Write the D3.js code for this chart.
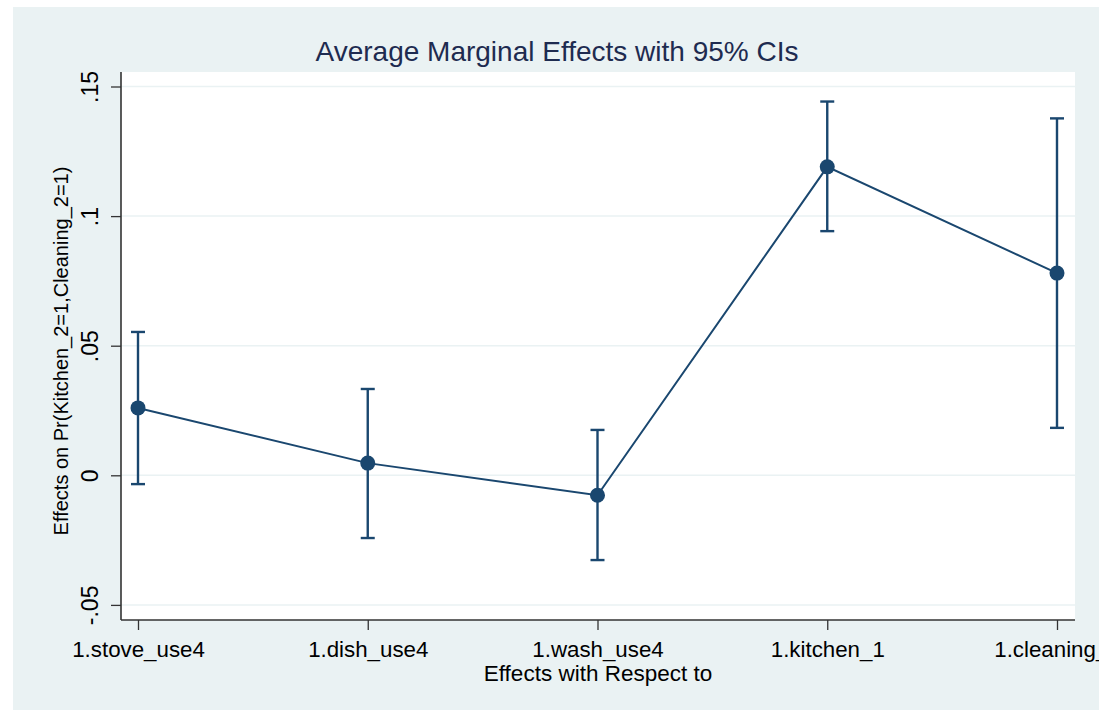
<!DOCTYPE html>
<html>
<head>
<meta charset="utf-8">
<script src="https://cdn.jsdelivr.net/npm/d3@7"></script>
<style>
  html, body { margin: 0; padding: 0; background: #ffffff; }
  svg { display: block; font-family: "Liberation Sans", Arial, sans-serif; }
</style>
</head>
<body>
<svg id="chart" width="1099" height="710"></svg>
<script>
const categories = ["1.stove_use4", "1.dish_use4", "1.wash_use4", "1.kitchen_1", "1.cleaning_1"];
const estimates  = [0.026, 0.0047, -0.0077, 0.119, 0.078];
const ciLower    = [-0.0034, -0.0242, -0.0327, 0.0942, 0.0183];
const ciUpper    = [0.0553, 0.0333, 0.0175, 0.1442, 0.1377];
const yTicks     = [-0.05, 0, 0.05, 0.1, 0.15];
const yTickLabels = ["-.05", "0", ".05", ".1", ".15"];
const titleText  = "Average Marginal Effects with 95% CIs";
const xTitle     = "Effects with Respect to";
const yTitle     = "Effects on Pr(Kitchen_2=1,Cleaning_2=1)";

const svg = d3.select("#chart");
const W = 1099, H = 710;
const bg = "#eaf2f3", navy = "#1a476f";

// outer graph region
svg.append("rect").attr("x", 13).attr("y", 7).attr("width", W - 13).attr("height", H - 7).attr("fill", bg);

const plot = { left: 121, right: 1075, top: 72, bottom: 620 };
svg.append("rect").attr("x", plot.left).attr("y", plot.top)
  .attr("width", plot.right - plot.left).attr("height", plot.bottom - plot.top).attr("fill", "#ffffff");

const x = d3.scalePoint().domain(categories).range([138, 1057]);
const y = d3.scaleLinear().domain([0, 0.05]).range([475.3, 345.7]);

// gridlines
svg.append("g").selectAll("line").data(yTicks).join("line")
  .attr("x1", plot.left).attr("x2", plot.right)
  .attr("y1", d => y(d)).attr("y2", d => y(d))
  .attr("stroke", bg).attr("stroke-width", 1.5);

// y axis
const yAxis = d3.axisLeft(y).tickValues(yTicks)
  .tickFormat((d, i) => yTickLabels[i]).tickSizeOuter(0).tickSize(10).tickPadding(8);
const gy = svg.append("g").attr("transform", `translate(${plot.left},0)`).call(yAxis);
gy.select(".domain").attr("d", `M0,${plot.top}V${plot.bottom}`).attr("stroke", "#333").attr("stroke-width", 1.6);
gy.selectAll(".tick line").attr("stroke", "#333").attr("stroke-width", 1.3);
gy.selectAll(".tick text")
  .attr("font-size", 23).attr("fill", "#000")
  .attr("text-anchor", "middle")
  .attr("dy", 0).attr("x", 0).attr("y", 0)
  .attr("transform", "translate(-23.5,0) rotate(-90)");

// x axis
const xAxis = d3.axisBottom(x).tickSizeOuter(0).tickSize(10).tickPadding(8);
const gx = svg.append("g").attr("transform", `translate(0,${plot.bottom})`).call(xAxis);
gx.select(".domain").attr("d", `M${plot.left},0H${plot.right}`).attr("stroke", "#333").attr("stroke-width", 1.6);
gx.selectAll(".tick line").attr("stroke", "#333").attr("stroke-width", 1.3);
gx.selectAll(".tick text").attr("font-size", 22.3).attr("fill", "#000").attr("dy", 0).attr("y", 37);

// axis titles
svg.append("text").attr("x", (plot.left + plot.right) / 2).attr("y", 681)
  .attr("text-anchor", "middle").attr("font-size", 22.5).attr("fill", "#000").text(xTitle);
svg.append("text").attr("transform", `translate(68,${(plot.top + plot.bottom) / 2 + 5}) rotate(-90)`)
  .attr("text-anchor", "middle").attr("font-size", 20).attr("fill", "#000").text(yTitle);

// title
svg.append("text").attr("x", (13 + W) / 2 + 1).attr("y", 61)
  .attr("text-anchor", "middle").attr("font-size", 28).attr("fill", "#1e2b50").text(titleText);

// data
const data = categories.map((c, i) => ({ c, v: estimates[i], lo: ciLower[i], hi: ciUpper[i] }));

const ci = svg.append("g").attr("stroke", navy).attr("stroke-width", 2.4).attr("fill", "none");
ci.selectAll("line.v").data(data).join("line").attr("class", "v")
  .attr("x1", d => x(d.c)).attr("x2", d => x(d.c)).attr("y1", d => y(d.lo)).attr("y2", d => y(d.hi));
ci.selectAll("line.t").data(data).join("line").attr("class", "t")
  .attr("x1", d => x(d.c) - 7).attr("x2", d => x(d.c) + 7).attr("y1", d => y(d.hi)).attr("y2", d => y(d.hi));
ci.selectAll("line.b").data(data).join("line").attr("class", "b")
  .attr("x1", d => x(d.c) - 7).attr("x2", d => x(d.c) + 7).attr("y1", d => y(d.lo)).attr("y2", d => y(d.lo));

svg.append("path").datum(data)
  .attr("d", d3.line().x(d => x(d.c)).y(d => y(d.v)))
  .attr("fill", "none").attr("stroke", navy).attr("stroke-width", 2);

svg.append("g").selectAll("circle").data(data).join("circle")
  .attr("cx", d => x(d.c)).attr("cy", d => y(d.v)).attr("r", 7.5).attr("fill", navy);
</script>
</body>
</html>
